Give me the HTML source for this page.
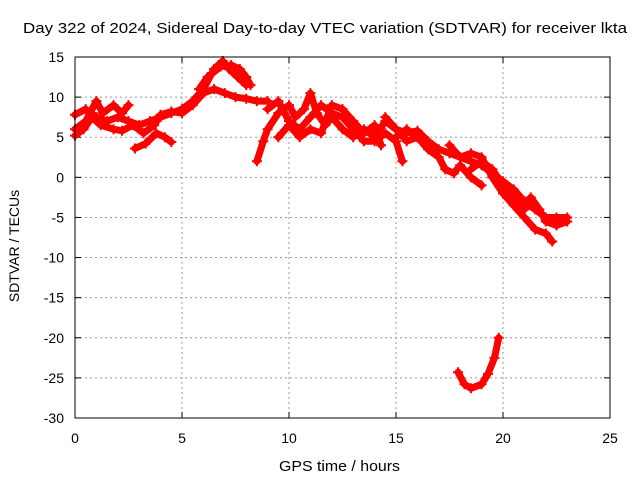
<!DOCTYPE html>
<html><head><meta charset="utf-8"><style>
body{margin:0;background:#fff;}
svg text{font-family:"Liberation Sans",sans-serif;font-size:14px;fill:#000;}
</style></head><body>
<svg id="chart" width="640" height="480">
<text x="23" y="33" textLength="604" lengthAdjust="spacingAndGlyphs" style="font-size:15px">Day 322 of 2024, Sidereal Day-to-day VTEC variation (SDTVAR) for receiver lkta</text>
<text x="279" y="471" textLength="121" lengthAdjust="spacingAndGlyphs" style="font-size:15px">GPS time / hours</text>
<text transform="translate(19,246) rotate(-90)" text-anchor="middle">SDTVAR / TECUs</text>
<g id="grid"></g><g id="ticks"></g><g id="data"></g>
<rect x="75" y="57" width="535" height="361" fill="none" stroke="#000" stroke-width="1"/>
</svg>
<script>
const xTicks=[0,5,10,15,20,25];
const yTicks=[15,10,5,0,-5,-10,-15,-20,-25,-30];
const s1=[[0,7.8],[0.5,8.5],[1,7.5],[1.5,7],[2,7.5],[2.5,7],[3,6.5],[3.5,7],[4,7.5],[4.5,8],[5,8.5],[5.5,9.5],[6,11],[6.5,13.5],[6.9,14.5],[7.2,13.5],[7.6,12.5],[8,11.5]];
const s2=[[0,6],[0.5,7],[1,9.5],[1.3,8],[1.8,9],[2.2,8],[2.5,9]];
const s3=[[0,5.2],[0.4,6],[0.8,7.5],[1.2,6.5],[1.8,6],[2.2,5.8],[2.7,6.5],[3.2,5.5],[3.7,6.5],[4,7.8],[4.5,8.2],[5,8],[5.5,9],[6,10.5],[6.5,11],[7,10.5],[7.5,10],[8,9.8],[8.5,9.5],[9,9.5]];
const s4=[[2.8,3.6],[3.3,4.2],[3.8,5.5],[4.2,5],[4.5,4.4]];
const s5=[[5.8,11],[6.2,12.5],[6.8,13.8],[7.3,14],[7.7,13.5],[8,12.5],[8.2,11.5]];
const s6=[[8.5,2],[8.8,4.5],[9,6],[9.5,8],[10,9],[10.3,7.5],[10.7,8.5],[11,10.5],[11.3,8],[11.7,6.5],[12,7.5],[12.5,6],[13,5],[13.5,6],[14,5],[14.5,7],[15,6],[15.5,4.5],[16,5]];
const s7=[[9,8.5],[9.5,9.5],[10,7],[10.5,6],[11,7.5],[11.5,9],[12,8],[12.5,7.5],[13,6],[13.5,4.5],[14,4.5],[14.5,5.5],[15,4.5],[15.3,2]];
const s8=[[9.5,5],[10,6.5],[10.5,5],[11,6],[11.5,5.5],[12,9],[12.5,8.5],[13,7],[13.5,5.5],[14,6.5],[14.3,4]];
const s9=[[14.5,7.5],[15,6],[15.5,5.5],[16,5.8],[16.5,4.5],[17,3.5],[17.5,3],[18,2.5],[18.5,2],[19,1.5],[19.5,0.5],[20,-0.5],[20.5,-1.5],[21,-3],[21.5,-4],[22,-5],[22.5,-5],[23,-5]];
const s10=[[15,5],[15.5,6],[16,5],[16.5,3.5],[17,2.5],[17.3,1],[17.7,0.5],[18,1.5],[18.5,0],[19,-1]];
const s11=[[17.5,4],[18,2.5],[18.5,3],[19,2.5],[19.5,0],[20,-2],[20.5,-3.5],[21,-5],[21.5,-6.5],[22,-7],[22.3,-8]];
const s12=[[18.5,1],[19,2],[19.5,1],[20,-1],[20.5,-2.5],[21,-4],[21.3,-2.5],[21.7,-4],[22,-5.5],[22.5,-6],[23,-5.5]];
const s13=[[17.9,-24.3],[18.2,-25.8],[18.5,-26.3],[19,-25.8],[19.3,-24.5],[19.6,-22.5],[19.8,-20]];
const series=[s1,s2,s3,s4,s5,s6,s7,s8,s9,s10,s11,s12,s13];
const X=h=>75+h*21.4, Y=v=>57+(15-v)*8.022;
const NS="http://www.w3.org/2000/svg";
function mk(t,a,p){const e=document.createElementNS(NS,t);for(const k in a)e.setAttribute(k,a[k]);p.appendChild(e);return e;}
const g=document.getElementById('grid'),tk=document.getElementById('ticks'),d=document.getElementById('data');
xTicks.forEach(t=>{const x=X(t);
 if(t>0&&t<25){const l=mk('line',{x1:x,y1:57,x2:x,y2:418,stroke:'#999','stroke-dasharray':'2,3'},g);
 
 }
 mk('line',{x1:x,y1:418,x2:x,y2:412,stroke:'#000'},tk);mk('line',{x1:x,y1:57,x2:x,y2:63,stroke:'#000'},tk);
 const tx=mk('text',{x:x,y:443,'text-anchor':'middle'},tk);tx.textContent=t;
 
 });
yTicks.forEach(t=>{const y=Y(t);
 if(t<15&&t>-30){const l=mk('line',{x1:75,y1:y,x2:610,y2:y,stroke:'#999','stroke-dasharray':'2,3'},g);
 
 }
 mk('line',{x1:75,y1:y,x2:81,y2:y,stroke:'#000'},tk);mk('line',{x1:610,y1:y,x2:604,y2:y,stroke:'#000'},tk);
 const tx=mk('text',{x:64,y:y+5,'text-anchor':'end'},tk);tx.textContent=t;
 
 });
series.forEach((s,i)=>{
 const p=mk('polyline',{points:s.map(q=>X(q[0])+','+Y(q[1])).join(' '),fill:'none',stroke:'#f00','stroke-width':7,'stroke-linejoin':'round','stroke-linecap':'round'},d);
 
 
 s.forEach(q=>{const x=X(q[0]),y=Y(q[1]);
  const m=mk('path',{d:`M${x-5},${y}h10M${x},${y-5}v10`,stroke:'#f00','stroke-width':2},d);
  
  });
});
</script>
</body></html>
